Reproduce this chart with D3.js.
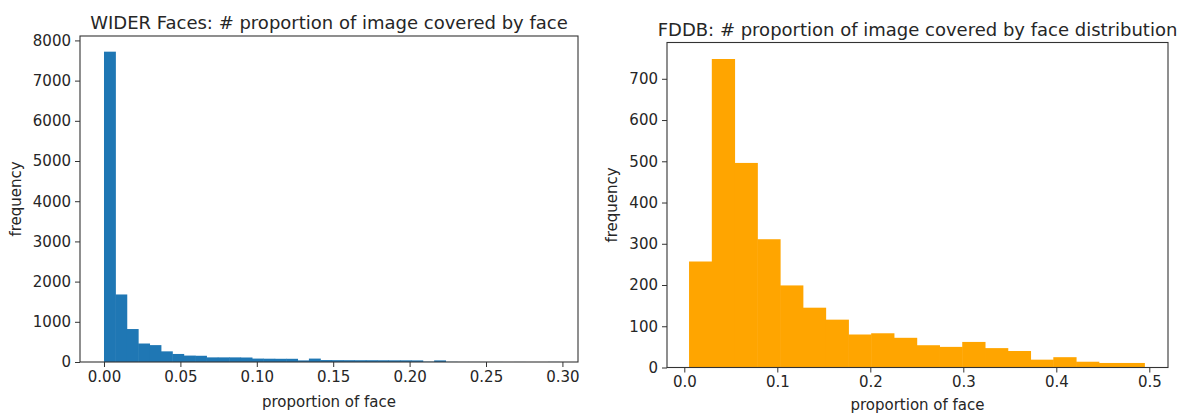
<!DOCTYPE html>
<html>
<head>
<meta charset="utf-8">
<script src="https://cdn.jsdelivr.net/npm/d3@7"></script>
<style>
  body { margin: 0; background: #fff; }
  svg text { font-family: "DejaVu Sans", sans-serif; fill: #262626; }
</style>
</head>
<body>
<svg id="fig" width="1178" height="414"></svg>
<script>
// WIDER faces : 40 bins from 0, largeur de bin ~0.00745
var wider_start = 0;
var wider_binw = 0.00745;
var wider_counts = [7720, 1680, 820, 460, 420, 265, 200, 160, 155, 115,
                    115, 115, 112, 85, 82, 80, 80, 40, 85, 48,
                    46, 45, 44, 44, 43, 42, 42, 40, 8, 40,
                    4, 2, 2, 1, 1, 0, 1, 0, 0, 2];
var wider_xticks = [0, 0.05, 0.10, 0.15, 0.20, 0.25, 0.30];
var wider_yticks = [0, 1000, 2000, 3000, 4000, 5000, 6000, 7000, 8000];

// FDDB : 20 bins
var fddb_start = 0.0051;
var fddb_binw = 0.02448;
var fddb_counts = [257, 748, 496, 311, 199, 145, 116, 80, 83, 72,
                   54, 50, 62, 47, 40, 19, 25, 14, 11, 11];
var fddb_xticks = [0, 0.1, 0.2, 0.3, 0.4, 0.5];
var fddb_yticks = [0, 100, 200, 300, 400, 500, 600, 700];

var svg = d3.select('#fig');

function histo(opt) {
    var x = d3.scaleLinear().domain(opt.xdom).range([opt.left, opt.right]);
    var y = d3.scaleLinear().domain(opt.ydom).range([opt.bottom, opt.top]);
    var g = svg.append('g');

    // barres
    g.selectAll('rect.bar')
        .data(opt.counts)
        .enter()
        .append('rect')
        .attr('class', 'bar')
        .attr('x', function(d, i) { return x(opt.start + i * opt.binw); })
        .attr('width', function(d, i) { return x(opt.start + (i + 1) * opt.binw) - x(opt.start + i * opt.binw) + 0.5; })
        .attr('y', function(d) { return y(d); })
        .attr('height', function(d) { return y(0) - y(d); })
        .attr('fill', opt.color);

    // axes
    var ax = g.append('g')
        .attr('transform', 'translate(0,' + opt.bottom + ')')
        .call(d3.axisBottom(x).tickValues(opt.xticks).tickFormat(d3.format(opt.xfmt)).tickSizeOuter(0).tickSize(5).tickPadding(4));
    var ay = g.append('g')
        .attr('transform', 'translate(' + opt.left + ',0)')
        .call(d3.axisLeft(y).tickValues(opt.yticks).tickSizeOuter(0).tickSize(5).tickPadding(4).tickFormat(d3.format('d')));
    [ax, ay].forEach(function(a) {
        a.select('.domain').remove();
        a.selectAll('line').attr('stroke', '#333');
        a.selectAll('text').style('font-size', '15px').attr('fill', '#262626');
    });

    // cadre
    g.append('rect')
        .attr('x', opt.left).attr('y', opt.top)
        .attr('width', opt.right - opt.left).attr('height', opt.bottom - opt.top)
        .attr('fill', 'none').attr('stroke', '#333').attr('stroke-width', 1.1);

    g.append('text')
        .attr('x', (opt.left + opt.right) / 2).attr('y', opt.top - 7)
        .attr('text-anchor', 'middle')
        .style('font-size', '18px')
        .text(opt.title);

    g.append('text')
        .attr('x', (opt.left + opt.right) / 2).attr('y', opt.bottom + opt.xlaboff)
        .attr('text-anchor', 'middle')
        .style('font-size', '15px')
        .text('proportion of face');

    g.append('text')
        .attr('transform', 'translate(' + opt.ylabx + ',' + (opt.top + opt.bottom) / 2 + ') rotate(-90)')
        .attr('text-anchor', 'middle')
        .style('font-size', '15px')
        .text('frequency');
}

histo({
    left: 80, right: 578, top: 36, bottom: 362,
    xdom: [-0.0157, 0.3102], ydom: [0, 8110],
    start: wider_start, binw: wider_binw, counts: wider_counts,
    xticks: wider_xticks, yticks: wider_yticks, xfmt: '.2f',
    color: '#1f77b4', ylabx: 21, xlaboff: 45,
    title: 'WIDER Faces: # proportion of image covered by face'
});

histo({
    left: 667, right: 1168, top: 42.5, bottom: 367.5,
    xdom: [-0.0186, 0.5201], ydom: [0, 788],
    start: fddb_start, binw: fddb_binw, counts: fddb_counts,
    xticks: fddb_xticks, yticks: fddb_yticks, xfmt: '.1f',
    color: '#ffa500', ylabx: 617, xlaboff: 42,
    title: 'FDDB: # proportion of image covered by face distribution'
});
</script>
</body>
</html>
